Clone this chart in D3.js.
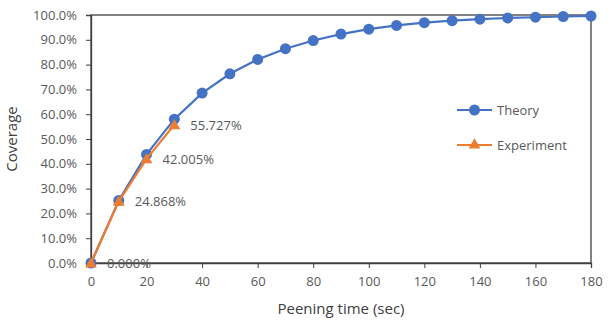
<!DOCTYPE html>
<html>
<head>
<meta charset="utf-8">
<script src="https://cdn.jsdelivr.net/npm/d3@7"></script>
<style>
  body { margin: 0; background: #fff; }
  svg text { font-family: "Open Sans", "Noto Sans", sans-serif; }
</style>
</head>
<body>
<svg id="chart" width="610" height="322"></svg>
<script>
const TIME = [0, 10, 20, 30, 40, 50, 60, 70, 80, 90, 100, 110, 120, 130, 140, 150, 160, 170, 180];
const THEORY = [0, 25.2, 43.8, 58.0, 68.5, 76.3, 82.1, 86.4, 89.7, 92.3, 94.3, 95.8, 96.9, 97.7, 98.3, 98.8, 99.1, 99.4, 99.6];
const EXP_TIME = [0, 10, 20, 30];
const EXPERIMENT = [0, 24.868, 42.005, 55.727];
const X_TICKS = [0, 20, 40, 60, 80, 100, 120, 140, 160, 180];
const Y_TICKS = [0, 10, 20, 30, 40, 50, 60, 70, 80, 90, 100];

const BLUE = "#4472C4";
const ORANGE = "#ED7D31";
const GREY = "#595959";

const svg = d3.select("#chart");
const margin = { left: 91, right: 19, top: 15, bottom: 59 };
const width = 610 - margin.left - margin.right;
const height = 322 - margin.top - margin.bottom;

const x = d3.scaleLinear().domain([0, 180]).range([margin.left, margin.left + width]);
const y = d3.scaleLinear().domain([0, 100]).range([margin.top + height, margin.top]);

// plot frame
svg.append("rect")
  .attr("x", x(0)).attr("y", y(100))
  .attr("width", width).attr("height", height)
  .attr("fill", "none").attr("stroke", "#404040").attr("stroke-width", 1.3);

const xAxis = svg.append("g")
  .attr("transform", `translate(0,${y(0)})`)
  .call(d3.axisBottom(x).tickValues(X_TICKS).tickSize(5).tickPadding(9));
const yAxis = svg.append("g")
  .attr("transform", `translate(${x(0)},0)`)
  .call(d3.axisLeft(y).tickValues(Y_TICKS).tickSize(5).tickPadding(9)
    .tickFormat(d => d.toFixed(1) + "%"));

[xAxis, yAxis].forEach(g => {
  g.select(".domain").attr("stroke", "#404040").attr("stroke-width", 1.3);
  g.selectAll(".tick line").attr("stroke", "#404040");
  g.selectAll(".tick text").attr("fill", GREY).style("font-size", "13px");
});

svg.append("text")
  .attr("transform", `translate(17,${y(50)}) rotate(-90)`)
  .attr("text-anchor", "middle")
  .attr("fill", "#404040")
  .style("font-size", "15px")
  .text("Coverage");

svg.append("text")
  .attr("x", x(90)).attr("y", 314)
  .attr("text-anchor", "middle")
  .attr("fill", "#404040")
  .style("font-size", "15px")
  .text("Peening time (sec)");

const theory = TIME.map((t, i) => ({ t, v: THEORY[i] }));
const experiment = EXP_TIME.map((t, i) => ({ t, v: EXPERIMENT[i] }));

const line = d3.line().x(d => x(d.t)).y(d => y(d.v));
const tri = d3.symbol().type(d3.symbolTriangle).size(60);

svg.append("path").datum(theory)
  .attr("d", line).attr("fill", "none")
  .attr("stroke", BLUE).attr("stroke-width", 2.2);
svg.append("g").selectAll("circle").data(theory).join("circle")
  .attr("cx", d => x(d.t)).attr("cy", d => y(d.v)).attr("r", 5.5)
  .attr("fill", BLUE);

svg.append("path").datum(experiment)
  .attr("d", line).attr("fill", "none")
  .attr("stroke", ORANGE).attr("stroke-width", 2.2);
svg.append("g").selectAll("path").data(experiment).join("path")
  .attr("transform", d => `translate(${x(d.t)},${y(d.v) + 1})`)
  .attr("d", tri).attr("fill", ORANGE);

// value labels for the measured points
svg.append("g").selectAll("text").data(experiment).join("text")
  .attr("x", d => x(d.t) + 16).attr("y", d => y(d.v) + 1)
  .attr("dy", "0.32em")
  .attr("fill", GREY)
  .style("font-size", "13px")
  .text(d => d.v.toFixed(3) + "%");

// legend
const legend = [
  { name: "Theory", color: BLUE, marker: "circle", y: 110 },
  { name: "Experiment", color: ORANGE, marker: "triangle", y: 145 }
];
const lg = svg.append("g").selectAll("g").data(legend).join("g")
  .attr("transform", d => `translate(457,${d.y})`);
lg.append("line").attr("x1", 0).attr("x2", 35)
  .attr("stroke", d => d.color).attr("stroke-width", 2.2);
lg.each(function (d) {
  const g = d3.select(this);
  if (d.marker === "circle") {
    g.append("circle").attr("cx", 17.5).attr("r", 5.5).attr("fill", d.color);
  } else {
    g.append("path").attr("transform", "translate(17.5,0)").attr("d", tri).attr("fill", d.color);
  }
});
lg.append("text").attr("x", 40).attr("dy", "0.35em")
  .attr("fill", GREY).style("font-size", "13px")
  .text(d => d.name);
</script>
</body>
</html>
